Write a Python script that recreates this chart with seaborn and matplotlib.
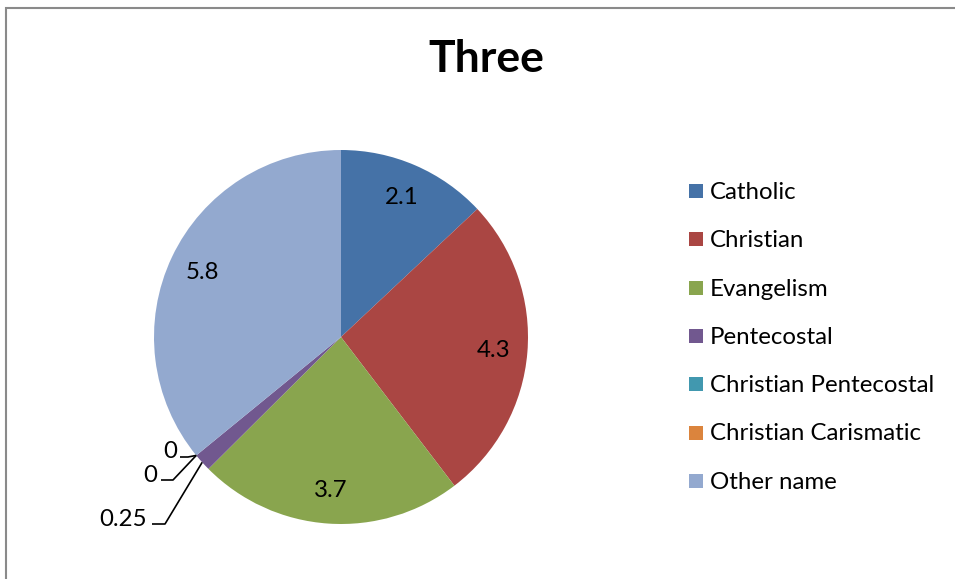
import matplotlib
matplotlib.use("Agg")
import matplotlib.pyplot as plt
import seaborn as sns
import numpy as np
from matplotlib.patches import Rectangle

# Chart data
title = "Three"
categories = ["Catholic", "Christian", "Evangelism", "Pentecostal",
              "Christian Pentecostal", "Christian Carismatic", "Other name"]
values = [2.1, 4.3, 3.7, 0.25, 0, 0, 5.8]
value_labels = ["2.1", "4.3", "3.7", "0.25", "0", "0", "5.8"]
colors = ["#4572A7", "#AA4643", "#89A54E", "#71588F",
          "#4198AF", "#DB843D", "#93A9CF"]

sns.set_theme(style="white")
plt.rcParams["font.family"] = ["Lato", "DejaVu Sans"]
palette = sns.color_palette(colors)

W, H = 955, 579
fig = plt.figure(figsize=(W / 100, H / 100), dpi=100)
ax = fig.add_axes([0, 0, 1, 1])

# pie geometry in pixel units (y measured upward)
cx, cy, R = 341, H - 337, 187
ax.pie(values, colors=palette, startangle=90, counterclock=False,
       center=(cx, cy), radius=R, wedgeprops=dict(linewidth=0), frame=True)
ax.set_xlim(0, W)
ax.set_ylim(0, H)
ax.set_aspect("auto")
ax.axis("off")

total = float(np.sum(values))
cum = np.cumsum(values)
starts = cum - np.array(values)


def angle_at(frac):
    return np.deg2rad(90 - 360 * frac)


label_font = 17.3
# labels inside the larger slices
for i, v in enumerate(values):
    if v / total < 0.05:
        continue
    a = angle_at((starts[i] + v / 2) / total)
    r = 0.82 * R
    ax.text(cx + r * np.cos(a), cy + r * np.sin(a) - 1, value_labels[i],
            ha="center", va="center", fontsize=label_font, color="black")

# outside labels with leader lines for the thin slices
leader_layout = {
    3: dict(text=(147, 519), seg=((152, 524), (165, 524))),
    4: dict(text=(157, 476), seg=((161, 480), (173, 480))),
    5: dict(text=(177, 452), seg=((180, 457), (188, 457))),
}
for i, lay in leader_layout.items():
    a = angle_at((starts[i] + values[i] / 2) / total)
    ex, ey = cx + R * np.cos(a), cy + R * np.sin(a)
    (x0, y0), (x1, y1) = lay["seg"]
    ax.plot([x0, x1, ex], [H - y0, H - y1, ey], color="black", lw=1.2,
            solid_capstyle="butt")
    tx, ty = lay["text"]
    ax.text(tx, H - ty, value_labels[i], ha="right", va="center",
            fontsize=label_font, color="black")

# title
ax.text(486, H - 59, title, ha="center", va="center", fontsize=32,
        fontweight="bold", color="black")

# legend
leg_x, leg_y0, leg_dy, sq = 689, 191, 48.3, 14
for k, (name, col) in enumerate(zip(categories, palette)):
    yc = H - (leg_y0 + k * leg_dy)
    ax.add_patch(Rectangle((leg_x, yc - sq / 2), sq, sq, facecolor=col,
                           edgecolor="none"))
    ax.text(leg_x + sq + 7, yc - 1.5, name, ha="left", va="center",
            fontsize=label_font, color="black")

# outer chart border
ax.add_patch(Rectangle((5.5, -10), W, H - 7.5 + 10, facecolor="none",
                       edgecolor="#8a8a8a", lw=1.5, clip_on=False))

fig.savefig("out.png", dpi=100)
